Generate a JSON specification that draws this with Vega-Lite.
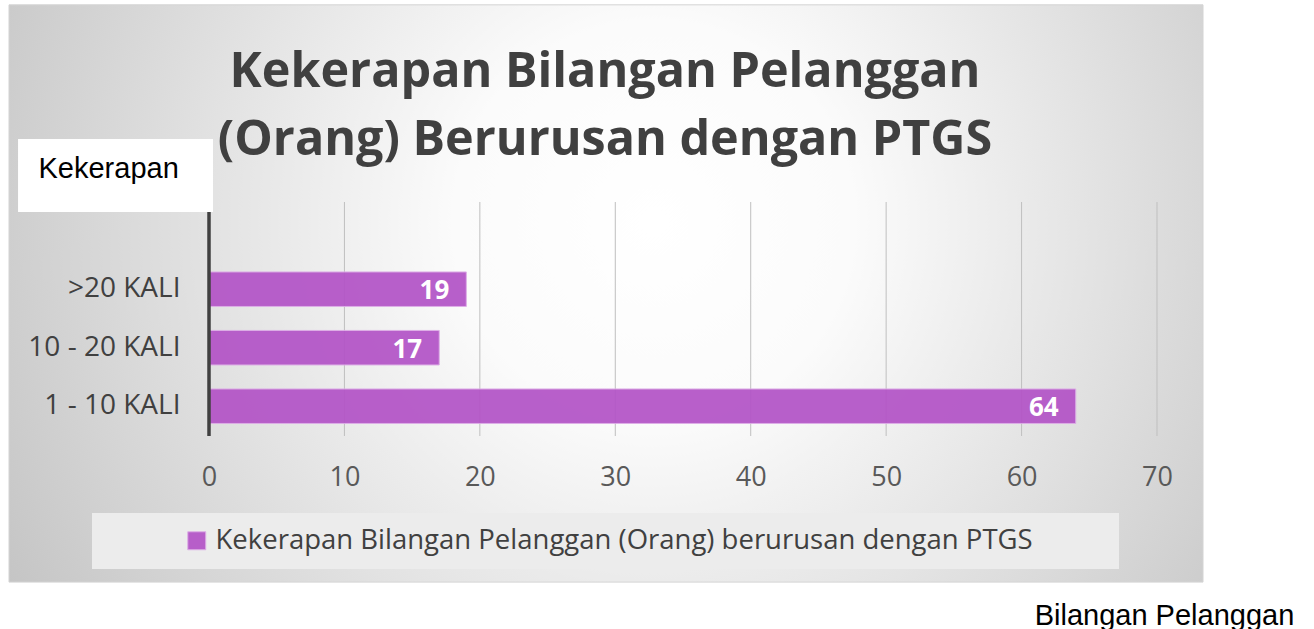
{
  "$schema": "https://vega.github.io/schema/vega-lite/v6.json",
  "width": 948,
  "height": 234,
  "autosize": "none",
  "padding": {"left": 209, "top": 202, "right": 157, "bottom": 193},
  "background": "white",
  "title": {
    "text": ["Kekerapan Bilangan Pelanggan", "(Orang) Berurusan dengan PTGS"],
    "font": "Open Sans",
    "fontSize": 48.5,
    "fontWeight": "bold",
    "color": "#404040",
    "lineHeight": 68,
    "anchor": "middle",
    "baseline": "alphabetic",
    "dx": -78,
    "offset": -199
  },
  "datasets": {
    "bars": [
      {"kategori": ">20 KALI", "nilai": 19, "siri": "Kekerapan Bilangan Pelanggan (Orang) berurusan dengan PTGS"},
      {"kategori": "10 - 20 KALI", "nilai": 17, "siri": "Kekerapan Bilangan Pelanggan (Orang) berurusan dengan PTGS"},
      {"kategori": "1 - 10 KALI", "nilai": 64, "siri": "Kekerapan Bilangan Pelanggan (Orang) berurusan dengan PTGS"}
    ],
    "grid": [{"v": 10}, {"v": 20}, {"v": 30}, {"v": 40}, {"v": 50}, {"v": 60}, {"v": 70}],
    "one": [{"k": 1}]
  },
  "layer": [
    {
      "data": {"name": "one"},
      "mark": {
        "type": "rect",
        "stroke": "#d4d4d4",
        "strokeWidth": 1,
        "color": {
          "gradient": "radial",
          "x1": 0.54, "y1": 0.44, "r1": 0,
          "x2": 0.54, "y2": 0.44, "r2": 0.76,
          "stops": [
            {"offset": 0, "color": "#ffffff"},
            {"offset": 0.22, "color": "#fbfbfb"},
            {"offset": 1, "color": "#b4b4b4"}
          ]
        }
      },
      "encoding": {
        "x": {"datum": -14.768, "type": "quantitative"},
        "x2": {"datum": 73.397},
        "y": {"datum": ">20 KALI", "type": "nominal", "bandPosition": -7.739},
        "y2": {"datum": ">20 KALI", "bandPosition": 8.986}
      }
    },
    {
      "data": {"name": "grid"},
      "mark": {"type": "rule", "color": "#bfbfbf", "strokeWidth": 1},
      "encoding": {
        "x": {"field": "v", "type": "quantitative"}
      }
    },
    {
      "data": {"name": "bars"},
      "mark": {"type": "bar", "opacity": 0.93, "stroke": "#dcaae6", "strokeWidth": 1},
      "encoding": {
        "y": {"field": "kategori", "type": "nominal"},
        "x": {"field": "nilai", "type": "quantitative"},
        "color": {
          "field": "siri",
          "type": "nominal",
          "scale": {"range": ["#b354c7"]},
          "legend": {
            "title": "\u2800",
            "titleOrient": "right",
            "titlePadding": 63,
            "titleFontSize": 12,
            "titleColor": "rgba(0,0,0,0)",
            "orient": "none",
            "legendX": -117,
            "legendY": 311,
            "fillColor": "#ececec",
            "padding": 14,
            "symbolOffset": 77,
            "symbolType": "square",
            "symbolSize": 324,
            "symbolStrokeColor": "#dcaae6",
            "symbolStrokeWidth": 1,
            "labelFont": "Open Sans",
            "labelFontSize": 27.5,
            "labelColor": "#404040",
            "labelLimit": 1200,
            "labelOffset": 5
          }
        }
      }
    },
    {
      "data": {"name": "one"},
      "mark": {"type": "rule", "color": "#404040", "strokeWidth": 3.5},
      "encoding": {
        "x": {"datum": 0, "type": "quantitative"}
      }
    },
    {
      "data": {"name": "one"},
      "mark": {"type": "rect", "color": "white"},
      "encoding": {
        "x": {"datum": -14.10, "type": "quantitative"},
        "x2": {"datum": 0.295},
        "y": {"datum": ">20 KALI", "type": "nominal", "bandPosition": -3.855},
        "y2": {"datum": ">20 KALI", "bandPosition": -1.739}
      }
    },
    {
      "data": {"name": "bars"},
      "mark": {
        "type": "text",
        "align": "right",
        "baseline": "middle",
        "dx": -17,
        "dy": 2,
        "font": "Open Sans",
        "fontSize": 26,
        "fontWeight": "bold",
        "color": "white"
      },
      "encoding": {
        "y": {"field": "kategori", "type": "nominal"},
        "x": {"field": "nilai", "type": "quantitative"},
        "text": {"field": "nilai", "type": "quantitative"}
      }
    }
  ],
  "encoding": {
    "x": {
      "type": "quantitative",
      "scale": {"domain": [0, 70], "nice": false, "zero": false},
      "axis": {
        "values": [0, 10, 20, 30, 40, 50, 60, 70],
        "grid": false,
        "domain": false,
        "ticks": false,
        "tickSize": 0,
        "labelPadding": 41,
        "labelBaseline": "middle",
        "labelFont": "Open Sans",
        "labelFontSize": 27,
        "labelColor": "#595959",
        "labelFlush": false,
        "labelOverlap": false,
        "zindex": 1,
        "title": "Bilangan Pelanggan",
        "titleFont": "Liberation Sans",
        "titleFontSize": 29,
        "titleFontWeight": "normal",
        "titleColor": "#000000",
        "titleX": 955,
        "titleY": 188,
        "titleAlign": "center",
        "titleBaseline": "alphabetic",
        "titleAnchor": null
      }
    },
    "y": {
      "type": "nominal",
      "scale": {
        "type": "band",
        "domain": [">20 KALI", "10 - 20 KALI", "1 - 10 KALI"],
        "paddingInner": 0.41,
        "paddingOuter": 0.705,
        "align": 0.848
      },
      "axis": {
        "grid": false,
        "domain": false,
        "ticks": false,
        "tickSize": 0,
        "labelPadding": 29,
        "labelFont": "Open Sans",
        "labelFontSize": 28,
        "labelColor": "#404040",
        "zindex": 1,
        "title": "Kekerapan",
        "titleAngle": 0,
        "titleFont": "Liberation Sans",
        "titleFontSize": 29,
        "titleFontWeight": "normal",
        "titleColor": "#000000",
        "titleX": -171,
        "titleY": -25,
        "titleAlign": "left",
        "titleBaseline": "alphabetic",
        "titleAnchor": null
      }
    }
  },
  "config": {
    "view": {"stroke": null},
    "axis": {"labelLimit": 400}
  }
}
